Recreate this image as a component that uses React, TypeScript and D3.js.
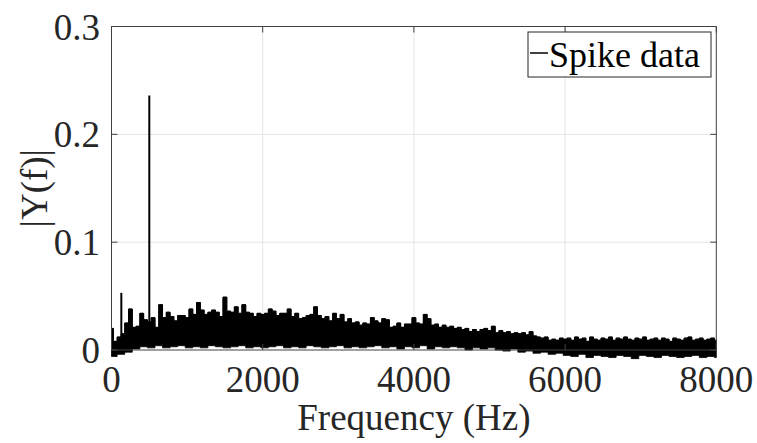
import React from "react";
import * as d3 from "d3";

// Upper envelope of |Y(f)|, every 50 Hz from 0 to 8000 Hz
const upperStepHz = 50;
const upperValues: number[] = [
  0.020, 0.008, 0.012, 0.015, 0.025, 0.038, 0.021, 0.022, 0.034, 0.028,
  0.026, 0.030, 0.021, 0.042, 0.030, 0.035, 0.031, 0.027, 0.032, 0.032,
  0.030, 0.038, 0.033, 0.044, 0.037, 0.033, 0.035, 0.037, 0.035, 0.031,
  0.049, 0.036, 0.035, 0.040, 0.034, 0.042, 0.035, 0.034, 0.031, 0.034,
  0.033, 0.034, 0.038, 0.036, 0.032, 0.034, 0.034, 0.038, 0.031, 0.034,
  0.029, 0.030, 0.032, 0.033, 0.040, 0.032, 0.029, 0.031, 0.027, 0.034,
  0.029, 0.033, 0.026, 0.029, 0.025, 0.026, 0.023, 0.025, 0.024, 0.030,
  0.027, 0.025, 0.029, 0.028, 0.021, 0.022, 0.025, 0.021, 0.024, 0.024,
  0.030, 0.025, 0.024, 0.033, 0.029, 0.023, 0.024, 0.021, 0.023, 0.021,
  0.022, 0.020, 0.021, 0.019, 0.020, 0.017, 0.019, 0.017, 0.019, 0.020,
  0.018, 0.022, 0.016, 0.018, 0.016, 0.017, 0.015, 0.016, 0.015, 0.016,
  0.014, 0.017, 0.013, 0.012, 0.011, 0.012, 0.009, 0.010, 0.009, 0.011,
  0.010,
  0.011, 0.009, 0.012, 0.010, 0.011, 0.008, 0.012, 0.010, 0.009, 0.011,
  0.010, 0.012, 0.009, 0.011, 0.010, 0.012, 0.010, 0.009, 0.011, 0.010,
  0.012, 0.009, 0.010, 0.011, 0.009, 0.011, 0.010, 0.008, 0.011, 0.010,
  0.009, 0.011, 0.012, 0.009, 0.010, 0.011, 0.009, 0.010, 0.011, 0.009,
];

// Lower envelope of the trace, every 100 Hz from 0 to 8000 Hz
const lowerStepHz = 100;
const lowerValues: number[] = [
  -0.006, -0.004, -0.002, 0.001,
  0.003, 0.002, 0.004, 0.002, 0.003, 0.004, 0.002, 0.003, 0.002, 0.004,
  0.003, 0.002, 0.003, 0.004, 0.002, 0.003, 0.002, 0.003, 0.004, 0.002,
  0.003, 0.002, 0.004, 0.003, 0.002, 0.003, 0.004, 0.002, 0.003, 0.002,
  0.003, 0.004, 0.002, 0.003, 0.001, 0.003, 0.002, 0.004, 0.001, 0.003,
  0.002, 0.003,
  0.002, 0.000, 0.002, 0.001, 0.002,
  0.000, -0.001, 0.001, -0.002, -0.001,
  -0.003, -0.002, -0.004, -0.003, -0.005,
  -0.006, -0.004, -0.007, -0.005, -0.006, -0.007, -0.005, -0.006, -0.008, -0.005,
  -0.006, -0.007, -0.005, -0.006, -0.007, -0.006, -0.005, -0.007, -0.006, -0.007,
];

// Isolated spectral peaks
const peakFreqs: number[] = [130, 500];
const peakValues: number[] = [0.053, 0.236];

const xTicks: number[] = [0, 2000, 4000, 6000, 8000];
const yTicks: number[] = [0, 0.1, 0.2, 0.3];
const yTickLabels: string[] = ["0", "0.1", "0.2", "0.3"];
const legendLabel = "Spike data";

const W = 757;
const H = 443;
const L = 111.5;
const R = 716.3;
const T = 26.5;
const B = 350;
const FONT =
  'Liberation Serif, Tinos, Times New Roman, Times, Nimbus Roman, FreeSerif, DejaVu Serif, Noto Serif, serif';

export default function App() {
  const x = d3.scaleLinear().domain([0, 8000]).range([L, R]);
  const y = d3.scaleLinear().domain([0, 0.3]).range([B, T]);

  const pts = upperValues.map((v, i) => {
    const f = i * upperStepHz;
    const j = Math.min(lowerValues.length - 1, Math.floor(f / lowerStepHz));
    return { f, hi: v, lo: lowerValues[j] };
  });

  const area = d3
    .area<{ f: number; hi: number; lo: number }>()
    .x((d) => x(d.f))
    .y0((d) => y(d.lo))
    .y1((d) => y(d.hi))
    .curve(d3.curveStep);

  const upperLine = d3
    .line<{ f: number; hi: number; lo: number }>()
    .x((d) => x(d.f))
    .y((d) => y(d.hi))
    .curve(d3.curveStep);

  const seg = d3.line<[number, number]>().x((d) => x(d[0])).y((d) => y(d[1]));

  const axisColor = "#404040";
  const gridColor = "#e3e3e3";
  const tickLen = 6;

  return (
    <div style={{ position: "absolute", left: 0, top: 0, fontFamily: FONT }}>
      <svg width={W} height={H} style={{ display: "block", background: "#fff", fontFamily: FONT }}>
        <rect x={0} y={0} width={W} height={H} fill="#fff" />
        {/* grid */}
        {xTicks.slice(1, -1).map((t) => (
          <line key={"gx" + t} x1={x(t)} x2={x(t)} y1={T} y2={B} stroke={gridColor} strokeWidth={1} />
        ))}
        {yTicks.slice(1, -1).map((t) => (
          <line key={"gy" + t} x1={L} x2={R} y1={y(t)} y2={y(t)} stroke={gridColor} strokeWidth={1} />
        ))}

        {/* data */}
        <path d={area(pts) || ""} fill="#000" stroke="#000" strokeWidth={0.8} />
        <path d={upperLine(pts) || ""} fill="none" stroke="#000" strokeWidth={1} />
        {peakFreqs.map((f, k) => {
          const base = upperValues[Math.round(f / upperStepHz)];
          return (
            <path
              key={"pk" + k}
              d={seg([[f, base], [f, peakValues[k]]]) || ""}
              stroke="#000"
              strokeWidth={2}
              fill="none"
            />
          );
        })}

        {/* box */}
        <rect x={L} y={T} width={R - L} height={B - T} fill="none" stroke={axisColor} strokeWidth={1} />
        {/* ticks */}
        {xTicks.map((t) => (
          <g key={"xt" + t}>
            <line x1={x(t)} x2={x(t)} y1={B} y2={B - tickLen} stroke={axisColor} />
            <line x1={x(t)} x2={x(t)} y1={T} y2={T + tickLen} stroke={axisColor} />
            <text x={x(t)} y={392} textAnchor="middle" fontSize={37} fill="#262626">
              {String(t)}
            </text>
          </g>
        ))}
        {yTicks.map((t, k) => (
          <g key={"yt" + t}>
            <line x1={L} x2={L + tickLen} y1={y(t)} y2={y(t)} stroke={axisColor} />
            <line x1={R} x2={R - tickLen} y1={y(t)} y2={y(t)} stroke={axisColor} />
            <text x={100} y={y(t) + 13} textAnchor="end" fontSize={37} fill="#262626">
              {yTickLabels[k]}
            </text>
          </g>
        ))}

        {/* axis labels */}
        <text x={(L + R) / 2} y={430} textAnchor="middle" fontSize={37} fill="#262626">
          Frequency (Hz)
        </text>
        <text
          transform={`translate(47, ${(T + B) / 2}) rotate(-90)`}
          textAnchor="middle"
          fontSize={37}
          fill="#262626"
        >
          |Y(f)|
        </text>

        {/* legend */}
        <rect x={528} y={32} width={183} height={45} fill="#fff" stroke="#262626" strokeWidth={1} />
        <line x1={530} x2={548} y1={53} y2={53} stroke="#000" strokeWidth={1.5} />
        <text x={549} y={67} fontSize={36} fill="#000">
          {legendLabel}
        </text>
      </svg>
    </div>
  );
}
